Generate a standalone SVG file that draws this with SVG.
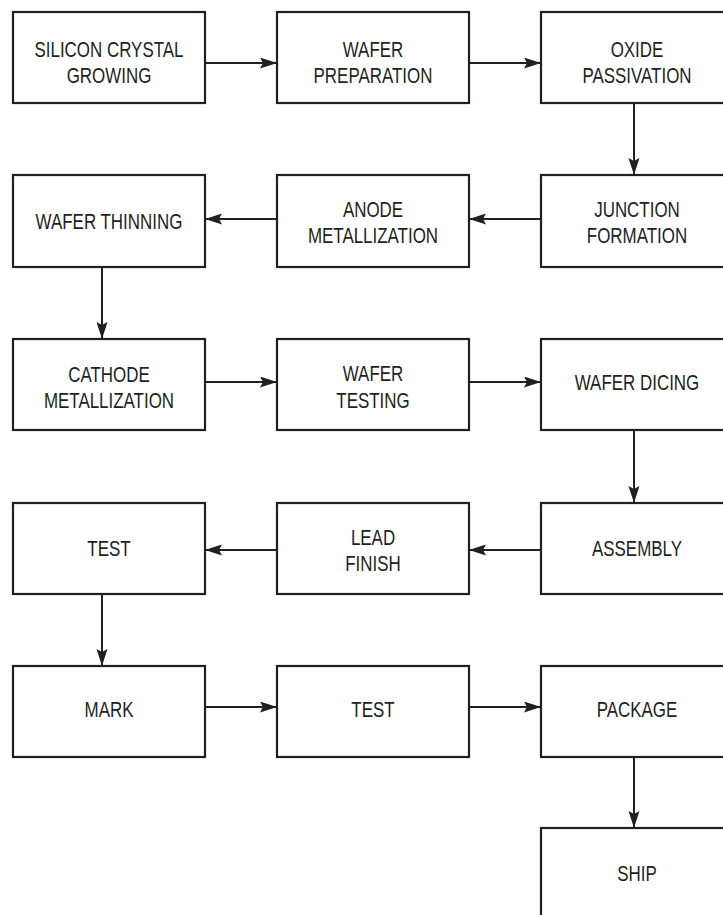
<svg xmlns="http://www.w3.org/2000/svg" width="723" height="915" viewBox="0 0 723 915">
<style>
.box{fill:#fff;stroke:#231f20;stroke-width:2.2}
.lbl{font-family:"Liberation Sans",Arial,sans-serif;font-size:22px;fill:#231f20;text-anchor:middle}
.con{fill:none;stroke:#231f20;stroke-width:2}
</style>
<defs>
<marker id="ah" markerUnits="userSpaceOnUse" markerWidth="20" markerHeight="14" refX="17" refY="5.5" orient="auto">
<path d="M0,0 L17,5.5 L0,11 L3,5.5 Z" fill="#231f20"/>
</marker>
</defs>
<rect width="723" height="915" fill="#fff"/>
<g id="connectors">
<line class="con" x1="205" y1="63" x2="277" y2="63" marker-end="url(#ah)"/>
<line class="con" x1="469" y1="63" x2="541" y2="63" marker-end="url(#ah)"/>
<line class="con" x1="634" y1="103" x2="634" y2="175" marker-end="url(#ah)"/>
<line class="con" x1="541" y1="219" x2="469" y2="219" marker-end="url(#ah)"/>
<line class="con" x1="277" y1="219" x2="205" y2="219" marker-end="url(#ah)"/>
<line class="con" x1="102" y1="267" x2="102" y2="339" marker-end="url(#ah)"/>
<line class="con" x1="205" y1="382" x2="277" y2="382" marker-end="url(#ah)"/>
<line class="con" x1="469" y1="382" x2="541" y2="382" marker-end="url(#ah)"/>
<line class="con" x1="634" y1="430" x2="634" y2="503" marker-end="url(#ah)"/>
<line class="con" x1="541" y1="550" x2="469" y2="550" marker-end="url(#ah)"/>
<line class="con" x1="277" y1="550" x2="205" y2="550" marker-end="url(#ah)"/>
<line class="con" x1="102" y1="594" x2="102" y2="666" marker-end="url(#ah)"/>
<line class="con" x1="205" y1="707" x2="277" y2="707" marker-end="url(#ah)"/>
<line class="con" x1="469" y1="707" x2="541" y2="707" marker-end="url(#ah)"/>
<line class="con" x1="634" y1="757" x2="634" y2="828" marker-end="url(#ah)"/>
</g>
<g id="n1"><rect class="box" x="13" y="12" width="192" height="91"/>
<text class="lbl" transform="translate(109 57) scale(0.77 1)">SILICON CRYSTAL</text>
<text class="lbl" transform="translate(109 83) scale(0.77 1)">GROWING</text></g>
<g id="n2"><rect class="box" x="277" y="12" width="192" height="91"/>
<text class="lbl" transform="translate(373 57) scale(0.77 1)">WAFER</text>
<text class="lbl" transform="translate(373 83) scale(0.77 1)">PREPARATION</text></g>
<g id="n3"><rect class="box" x="541" y="12" width="192" height="91"/>
<text class="lbl" transform="translate(637 57) scale(0.77 1)">OXIDE</text>
<text class="lbl" transform="translate(637 83) scale(0.77 1)">PASSIVATION</text></g>
<g id="n4"><rect class="box" x="541" y="175" width="192" height="92"/>
<text class="lbl" transform="translate(637 217) scale(0.77 1)">JUNCTION</text>
<text class="lbl" transform="translate(637 243) scale(0.77 1)">FORMATION</text></g>
<g id="n5"><rect class="box" x="277" y="175" width="192" height="92"/>
<text class="lbl" transform="translate(373 217) scale(0.77 1)">ANODE</text>
<text class="lbl" transform="translate(373 243) scale(0.77 1)">METALLIZATION</text></g>
<g id="n6"><rect class="box" x="13" y="175" width="192" height="92"/>
<text class="lbl" transform="translate(109 229) scale(0.77 1)">WAFER THINNING</text></g>
<g id="n7"><rect class="box" x="13" y="339" width="192" height="91"/>
<text class="lbl" transform="translate(109 382) scale(0.77 1)">CATHODE</text>
<text class="lbl" transform="translate(109 408) scale(0.77 1)">METALLIZATION</text></g>
<g id="n8"><rect class="box" x="277" y="339" width="192" height="91"/>
<text class="lbl" transform="translate(373 381) scale(0.77 1)">WAFER</text>
<text class="lbl" transform="translate(373 408) scale(0.77 1)">TESTING</text></g>
<g id="n9"><rect class="box" x="541" y="339" width="192" height="91"/>
<text class="lbl" transform="translate(637 390) scale(0.77 1)">WAFER DICING</text></g>
<g id="n10"><rect class="box" x="541" y="503" width="192" height="91"/>
<text class="lbl" transform="translate(637 556) scale(0.77 1)">ASSEMBLY</text></g>
<g id="n11"><rect class="box" x="277" y="503" width="192" height="91"/>
<text class="lbl" transform="translate(373 545) scale(0.77 1)">LEAD</text>
<text class="lbl" transform="translate(373 571) scale(0.77 1)">FINISH</text></g>
<g id="n12"><rect class="box" x="13" y="503" width="192" height="91"/>
<text class="lbl" transform="translate(109 556) scale(0.77 1)">TEST</text></g>
<g id="n13"><rect class="box" x="13" y="666" width="192" height="91"/>
<text class="lbl" transform="translate(109 717) scale(0.77 1)">MARK</text></g>
<g id="n14"><rect class="box" x="277" y="666" width="192" height="91"/>
<text class="lbl" transform="translate(373 717) scale(0.77 1)">TEST</text></g>
<g id="n15"><rect class="box" x="541" y="666" width="192" height="91"/>
<text class="lbl" transform="translate(637 717) scale(0.77 1)">PACKAGE</text></g>
<g id="n16"><rect class="box" x="541" y="828" width="192" height="100"/>
<text class="lbl" transform="translate(637 881) scale(0.77 1)">SHIP</text></g>
</svg>
